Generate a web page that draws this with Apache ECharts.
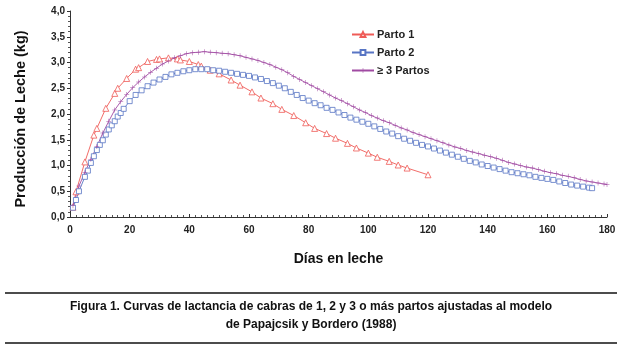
<!DOCTYPE html>
<html>
<head>
<meta charset="utf-8">
<title>Curvas de lactancia</title>
<script src="https://cdn.jsdelivr.net/npm/echarts@6/dist/echarts.min.js"></script>
<style>
  html, body { margin: 0; padding: 0; background: #fff; }
  #content { width: 622px; height: 352px; }
</style>
</head>
<body>
<div id="content"></div>
<script>
// datos (días en leche, kg)
var parto1Dias = [1, 2, 5, 8, 9, 12, 15, 16, 19, 22, 23, 26, 29, 30, 33, 36, 37, 40, 43, 44, 47, 50,
    54, 57, 61, 64, 68, 71, 75, 79, 82, 86, 89, 93, 96, 100, 103, 107, 110, 113, 120];
var parto1Leche = [0.19, 0.49, 1.07, 1.59, 1.72, 2.11, 2.40, 2.50, 2.69, 2.87, 2.90, 3.02, 3.06, 3.07, 3.09, 3.07, 3.05, 3.02, 2.96, 2.93, 2.85, 2.78,
    2.66, 2.56, 2.43, 2.31, 2.20, 2.09, 1.97, 1.83, 1.72, 1.62, 1.53, 1.43, 1.34, 1.24, 1.16, 1.08, 1.01, 0.95, 0.82];

var parto2Dias = [1, 2, 3, 5, 6, 7, 8, 9, 10, 11, 12, 13, 14, 15, 16, 17, 18, 20, 22, 24, 26, 28, 30, 32, 34, 36, 38, 40,
    42, 44, 46, 48, 50, 52, 54, 56, 58, 60, 62, 64, 66, 68, 70, 72, 74, 76, 78, 80, 82, 84, 86, 88, 90, 92, 94, 96, 98, 100,
    102, 104, 106, 108, 110, 112, 114, 116, 118, 120, 122, 124, 126, 128, 130, 132, 134, 136, 138, 140, 142, 144, 146, 148, 150,
    152, 154, 156, 158, 160, 162, 164, 166, 168, 170, 172, 174, 175];
var parto2Leche = [0.18, 0.33, 0.50, 0.78, 0.90, 1.05, 1.18, 1.30, 1.40, 1.49, 1.60, 1.70, 1.78, 1.86, 1.95, 2.02, 2.10, 2.25, 2.37, 2.46, 2.54, 2.61, 2.67, 2.72, 2.77, 2.80, 2.83, 2.85,
    2.87, 2.87, 2.87, 2.85, 2.84, 2.82, 2.80, 2.78, 2.76, 2.74, 2.71, 2.68, 2.64, 2.60, 2.55, 2.50, 2.43, 2.37, 2.31, 2.26, 2.21, 2.17, 2.12, 2.08, 2.03, 1.98, 1.93, 1.89, 1.85, 1.81,
    1.76, 1.71, 1.66, 1.62, 1.57, 1.52, 1.48, 1.44, 1.40, 1.37, 1.33, 1.29, 1.25, 1.21, 1.17, 1.13, 1.09, 1.06, 1.02, 0.99, 0.96, 0.93, 0.90, 0.87, 0.85,
    0.83, 0.81, 0.78, 0.76, 0.74, 0.72, 0.69, 0.66, 0.63, 0.61, 0.59, 0.57, 0.56];

var parto3Dias = [1, 3, 5, 7, 9, 11, 13, 15, 17, 19, 21, 23, 25, 27, 29, 31, 33, 35, 37, 39, 41, 43, 45, 47, 49,
    51, 53, 55, 57, 59, 61, 63, 65, 67, 69, 71, 73, 75, 77, 79, 81, 83, 85, 87, 89, 91, 93, 95, 97, 99,
    101, 103, 105, 107, 109, 111, 113, 115, 117, 119, 121, 123, 125, 127, 129, 131, 133, 135, 137, 139,
    141, 143, 145, 147, 149, 151, 153, 155, 157, 159, 161, 163, 165, 167, 169, 171, 173, 175, 177, 179, 180];
var parto3Leche = [0.22, 0.60, 0.87, 1.12, 1.37, 1.63, 1.86, 2.08, 2.24, 2.38, 2.51, 2.62, 2.72, 2.81, 2.89, 2.97, 3.03, 3.09, 3.13, 3.17, 3.19, 3.20, 3.21, 3.20, 3.19,
    3.18, 3.17, 3.15, 3.13, 3.10, 3.07, 3.04, 3.00, 2.96, 2.91, 2.86, 2.80, 2.73, 2.67, 2.61, 2.55, 2.49, 2.43, 2.37, 2.31, 2.26, 2.20, 2.14, 2.08, 2.03,
    1.97, 1.92, 1.87, 1.83, 1.78, 1.73, 1.69, 1.64, 1.60, 1.56, 1.52, 1.48, 1.44, 1.40, 1.36, 1.33, 1.29, 1.26, 1.23, 1.20,
    1.17, 1.14, 1.10, 1.06, 1.03, 1.00, 0.97, 0.95, 0.92, 0.89, 0.86, 0.84, 0.81, 0.79, 0.76, 0.73, 0.70, 0.68, 0.66, 0.64, 0.63];

var nombres = ["Parto 1", "Parto 2", "\u2265 3 Partos"];
var colores = ["#ef5b57", "#5875c4", "#a04aa2"];

var tituloY = "Producción de Leche (kg)";
var caption1 = "Figura 1. Curvas de lactancia de cabras de 1, 2 y 3 o más partos ajustadas al modelo";
var caption2 = "de Papajcsik y Bordero (1988)";

// juntar x, y
function pares(dias, leche) {
    var out = [];
    for (let i = 0; i < dias.length; i++) {
        out.push([dias[i], leche[i]]);
    }
    return out;
}

var fuente = "Liberation Sans, Arial, sans-serif";
var cruz = "path://M4.5,0H5.5V4.5H10V5.5H5.5V10H4.5V5.5H0V4.5H4.5Z";

var myChart = echarts.init(document.getElementById("content"));

myChart.setOption({
    animation: false,
    textStyle: { fontFamily: fuente },
    grid: { left: 70, right: 15, top: 11, bottom: 135 },
    legend: {
        orient: "vertical",
        left: 346,
        top: 24,
        itemWidth: 22,
        itemHeight: 6,
        itemGap: 7,
        data: nombres,
        textStyle: { fontSize: 11, fontWeight: "bold", color: "#222", fontFamily: fuente, padding: [0, 0, 0, -2] },
    },
    xAxis: {
        type: "value",
        min: 0,
        max: 180,
        interval: 20,
        offset: 3,
        name: "Días en leche",
        nameLocation: "middle",
        nameGap: 32,
        nameTextStyle: { fontSize: 14, fontWeight: "bold", color: "#111" },
        axisLine: { lineStyle: { color: "#333", width: 1 } },
        axisTick: { inside: true, length: 3, lineStyle: { color: "#333" } },
        minorTick: { show: true, splitNumber: 10, length: 2, lineStyle: { color: "#555" } },
        axisLabel: { fontSize: 10, fontWeight: "bold", color: "#222", margin: 5 },
        splitLine: { show: false },
    },
    yAxis: {
        type: "value",
        min: 0,
        max: 4,
        interval: 0.5,
        axisLine: { show: true, lineStyle: { color: "#333", width: 1 } },
        axisTick: { show: true, length: 3, lineStyle: { color: "#333" } },
        minorTick: { show: true, splitNumber: 5, length: 2, lineStyle: { color: "#555" } },
        axisLabel: {
            fontSize: 10,
            fontWeight: "bold",
            color: "#222",
            margin: 5,
            formatter: function(v) {
                return v.toFixed(1).replace(".", ",");
            },
        },
        splitLine: { show: false },
    },
    series: [{
            name: nombres[0],
            type: "line",
            data: pares(parto1Dias, parto1Leche),
            symbol: "triangle",
            symbolSize: 6,
            showAllSymbol: true,
            lineStyle: { color: colores[0], width: 0.9 },
            itemStyle: { color: "#fff", borderColor: colores[0], borderWidth: 0.8 },
        },
        {
            name: nombres[1],
            type: "line",
            data: pares(parto2Dias, parto2Leche),
            symbol: "rect",
            symbolSize: 5,
            showAllSymbol: true,
            lineStyle: { color: colores[1], width: 0.9 },
            itemStyle: { color: "#fff", borderColor: colores[1], borderWidth: 0.8 },
        },
        {
            name: nombres[2],
            type: "line",
            data: pares(parto3Dias, parto3Leche),
            symbol: cruz,
            symbolSize: 5,
            showAllSymbol: true,
            lineStyle: { color: colores[2], width: 0.9 },
            itemStyle: { color: colores[2], borderWidth: 0 },
        },
    ],
    graphic: [{
            type: "text",
            x: 21,
            y: 119,
            rotation: Math.PI / 2,
            style: {
                text: tituloY,
                font: "bold 14.5px " + fuente,
                fill: "#111",
                textAlign: "center",
                textVerticalAlign: "middle",
            },
        },
        {
            type: "line",
            shape: { x1: 5, y1: 293, x2: 617, y2: 293 },
            style: { stroke: "#111", lineWidth: 1.5 },
        },
        {
            type: "line",
            shape: { x1: 5, y1: 343, x2: 617, y2: 343 },
            style: { stroke: "#111", lineWidth: 1.5 },
        },
        {
            type: "text",
            x: 311,
            y: 307,
            style: {
                text: caption1,
                font: "bold 12px " + fuente,
                fill: "#111",
                textAlign: "center",
                textVerticalAlign: "middle",
            },
        },
        {
            type: "text",
            x: 311,
            y: 325,
            style: {
                text: caption2,
                font: "bold 12px " + fuente,
                fill: "#111",
                textAlign: "center",
                textVerticalAlign: "middle",
            },
        },
    ],
});
</script>
</body>
</html>
